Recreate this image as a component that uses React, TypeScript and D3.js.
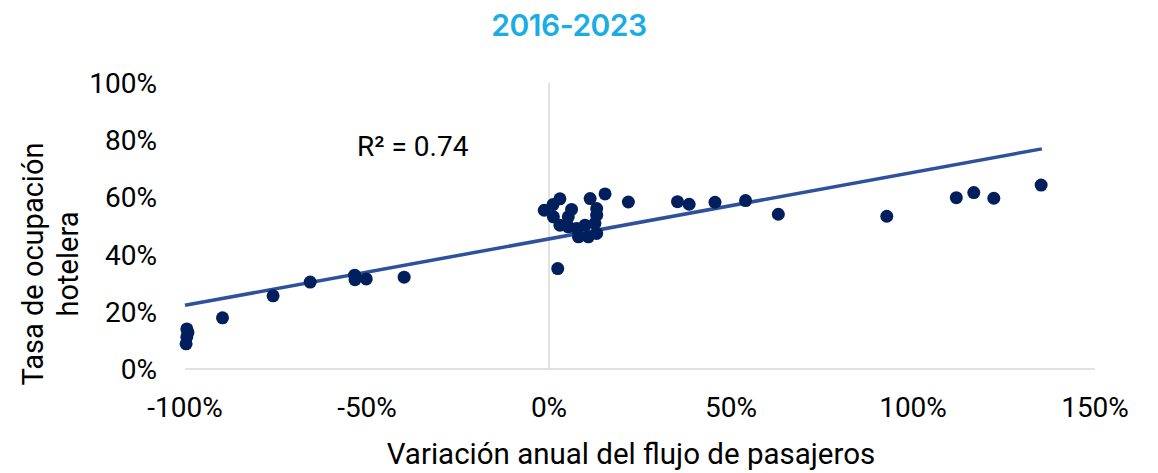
import React from "react";
import * as d3 from "d3";

const xValues: number[] = [
  -99.5, -99.2, -99.5, -99.7, -89.7, -75.8, -65.6, -53.4, -53.3, -50.2, -39.8,
  -1.3, 1.1, 3.0, 1.2, 3.0, 5.3, 6.2, 5.3, 7.6, 8.1, 9.9, 10.8, 13.1, 12.6, 13.1, 13.1, 11.3, 15.4, 2.4,
  21.8, 35.3, 38.5, 45.6, 54.0, 63.0, 92.8, 111.9, 116.7, 122.2, 135.2,
];
const yValues: number[] = [
  14.0, 12.8, 11.2, 8.8, 17.9, 25.6, 30.4, 32.8, 31.2, 31.5, 32.1,
  55.5, 57.5, 59.5, 53.2, 50.3, 53.2, 55.8, 49.7, 49.1, 46.2, 50.3, 46.2, 47.4, 50.9, 53.8, 56.1, 59.6, 61.2, 35.1,
  58.4, 58.5, 57.6, 58.3, 58.9, 54.1, 53.4, 59.9, 61.7, 59.7, 64.3,
];
const xTicks: number[] = [-100, -50, 0, 50, 100, 150];
const yTicks: number[] = [0, 20, 40, 60, 80, 100];
const trendIntercept = 45.5;
const trendSlope = 0.2324;
const trendRange: number[] = [-100, 135.4];
const title = "2016-2023";
const xTitle = "Variación anual del flujo de pasajeros";
const yTitleLines: string[] = ["Tasa de ocupación", "hotelera"];
const r2Label = "R² = 0.74";

export default function App() {
  const W = 1158;
  const H = 473;
  const left = 185, right = 1095, top = 83, bottom = 369;
  const x = d3.scaleLinear().domain([-100, 150]).range([left, right]);
  const y = d3.scaleLinear().domain([0, 100]).range([bottom, top]);
  const font = "Roboto, 'Noto Sans', sans-serif";
  const fs = 28;
  const line = d3
    .line<number>()
    .x((d) => x(d))
    .y((d) => y(trendIntercept + trendSlope * d));
  const pts = xValues.map((v, i) => [v, yValues[i]]);
  return (
    <svg
      width={W}
      height={H}
      style={{ position: "absolute", left: 0, top: 0, background: "#fff" }}
      fontFamily={font}
    >
      <text
        x={569}
        y={36}
        textAnchor="middle"
        fill="#1aade4"
        fontFamily="Inter, 'Open Sans', sans-serif"
        fontWeight={600}
        fontSize={30}
        letterSpacing={-0.5}
      >
        {title}
      </text>
      <line x1={x(0)} x2={x(0)} y1={y(100)} y2={y(0)} stroke="#d9d9d9" strokeWidth={1.5} />
      <line x1={left} x2={right} y1={y(0)} y2={y(0)} stroke="#d9d9d9" strokeWidth={1.5} />
      {yTicks.map((t) => (
        <text key={"y" + t} x={157} y={y(t)} dy="0.36em" textAnchor="end" fontSize={fs} fill="#000">
          {t + "%"}
        </text>
      ))}
      {xTicks.map((t) => (
        <text key={"x" + t} x={x(t)} y={417} textAnchor="middle" fontSize={fs} fill="#000">
          {t + "%"}
        </text>
      ))}
      <text x={631} y={464} textAnchor="middle" fontSize={29.5} fill="#000">
        {xTitle}
      </text>
      {yTitleLines.map((s, i) => (
        <text
          key={s}
          transform={`translate(${43 + i * 35},264) rotate(-90)`}
          textAnchor="middle"
          fontSize={29}
          fill="#000"
        >
          {s}
        </text>
      ))}
      <path d={line(trendRange) || ""} fill="none" stroke="#2f519b" strokeWidth={3.5} />
      {pts.map((p, i) => (
        <circle key={i} cx={x(p[0])} cy={y(p[1])} r={6.5} fill="#001f5c" />
      ))}
      <text x={357} y={156} fontSize={fs} fill="#000">
        {r2Label}
      </text>
    </svg>
  );
}
